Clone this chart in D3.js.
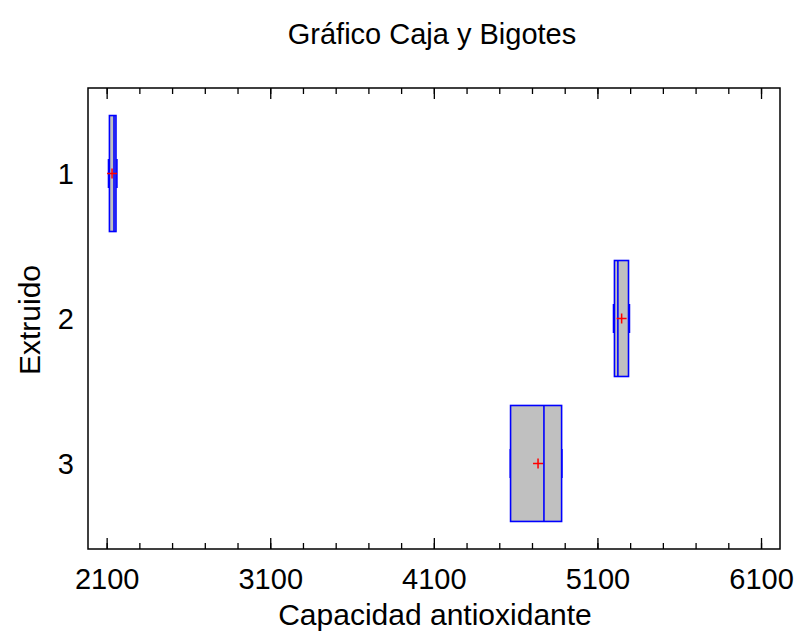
<!DOCTYPE html>
<html>
<head>
<meta charset="utf-8">
<script src="https://cdn.jsdelivr.net/npm/d3@7"></script>
<style>
body { margin: 0; background: #fff; }
text { font-family: "Liberation Sans", Arial, sans-serif; fill: #000; }
</style>
</head>
<body>
<div class="chart"></div>
<script>
// Box and whisker summary per group
var categories = ["1", "2", "3"];
var mins    = [2111, 5198, 4567];
var q1s     = [2117, 5204, 4569];
var medians = [2145, 5225, 4773];
var q3s     = [2157, 5290, 4881];
var maxs    = [2163, 5296, 4883];
var means   = [2133, 5248, 4737];

var majorTicks = [2100, 3100, 4100, 5100, 6100];
var minorTicks = d3.range(2100, 6101, 200);

var svgWidth = 800;
var svgHeight = 637;
var margin = { top: 88, right: 20, bottom: 88, left: 88 };
var width = 780 - margin.left;
var height = 549 - margin.top;

var svg = d3.select(".chart")
    .append("svg")
    .attr("width", svgWidth)
    .attr("height", svgHeight);

var chart = svg.append("g")
    .attr("transform", "translate(" + margin.left + "," + margin.top + ")");

var xScale = d3.scaleLinear().domain([1986, 6216]).range([0, width]);
var yScale = d3.scaleLinear().domain([0.41, 3.59]).range([0, height]);

var data = categories.map(function(c, i) {
    return { cat: +c, min: mins[i], q1: q1s[i], med: medians[i], q3: q3s[i], max: maxs[i], mean: means[i] };
});

// minor + major ticks, bottom and top, pointing inward
function addTicks(values, len) {
    chart.append("g")
        .attr("transform", "translate(0," + height + ")")
        .call(d3.axisBottom(xScale).tickValues(values).tickSize(-len).tickFormat(""))
        .call(function(g) { g.select(".domain").remove(); })
        .selectAll("line").attr("stroke", "#000").attr("stroke-width", 1.3);
    chart.append("g")
        .call(d3.axisTop(xScale).tickValues(values).tickSize(-len).tickFormat(""))
        .call(function(g) { g.select(".domain").remove(); })
        .selectAll("line").attr("stroke", "#000").attr("stroke-width", 1.3);
}
addTicks(minorTicks, 6);
addTicks(majorTicks, 11);

var xLabels = chart.append("g")
    .attr("transform", "translate(0," + height + ")")
    .call(d3.axisBottom(xScale).tickValues(majorTicks).tickSize(0).tickFormat(d3.format("d")));
xLabels.select(".domain").remove();
xLabels.selectAll("text")
    .attr("y", 40).attr("dy", null)
    .style("font-size", "29px")
    .style("font-family", "Liberation Sans, Arial, sans-serif");

var yLabels = chart.append("g")
    .call(d3.axisLeft(yScale).tickValues([1, 2, 3]).tickSize(0).tickFormat(d3.format("d")));
yLabels.select(".domain").remove();
yLabels.selectAll("text")
    .attr("x", -14).attr("dy", "0.36em")
    .style("font-size", "29px")
    .style("font-family", "Liberation Sans, Arial, sans-serif");

var boxHalf = 0.4;
var capHalf = 0.1;
var blue = "#0000ff";

var groups = chart.selectAll(".box")
    .data(data)
    .enter()
    .append("g")
    .attr("class", "box");

// whiskers
groups.append("line")
    .attr("x1", function(d) { return xScale(d.min); })
    .attr("x2", function(d) { return xScale(d.max); })
    .attr("y1", function(d) { return yScale(d.cat); })
    .attr("y2", function(d) { return yScale(d.cat); })
    .attr("stroke", blue).attr("stroke-width", 1.5);
["min", "max"].forEach(function(k) {
    groups.append("line")
        .attr("x1", function(d) { return xScale(d[k]); })
        .attr("x2", function(d) { return xScale(d[k]); })
        .attr("y1", function(d) { return yScale(d.cat - capHalf); })
        .attr("y2", function(d) { return yScale(d.cat + capHalf); })
        .attr("stroke", blue).attr("stroke-width", 1.5);
});

// boxes
groups.append("rect")
    .attr("x", function(d) { return xScale(d.q1); })
    .attr("y", function(d) { return yScale(d.cat - boxHalf); })
    .attr("width", function(d) { return xScale(d.q3) - xScale(d.q1); })
    .attr("height", function(d) { return yScale(d.cat + boxHalf) - yScale(d.cat - boxHalf); })
    .attr("fill", "#c0c0c0")
    .attr("stroke", blue).attr("stroke-width", 1.6);

// median
groups.append("line")
    .attr("x1", function(d) { return xScale(d.med); })
    .attr("x2", function(d) { return xScale(d.med); })
    .attr("y1", function(d) { return yScale(d.cat - boxHalf); })
    .attr("y2", function(d) { return yScale(d.cat + boxHalf); })
    .attr("stroke", blue).attr("stroke-width", 1.6);

// mean cross
groups.append("path")
    .attr("d", function(d) {
        var x = xScale(d.mean), y = yScale(d.cat);
        return "M" + (x - 5) + "," + y + "H" + (x + 5) + "M" + x + "," + (y - 5) + "V" + (y + 5);
    })
    .attr("stroke", "#ff0000").attr("stroke-width", 1.5).attr("fill", "none");

// frame
chart.append("rect")
    .attr("width", width).attr("height", height)
    .attr("fill", "none").attr("stroke", "#000").attr("stroke-width", 1.5);

// titles
svg.append("text")
    .attr("x", 432).attr("y", 44)
    .attr("text-anchor", "middle")
    .style("font-size", "29px")
    .text("Gráfico Caja y Bigotes");

svg.append("text")
    .attr("x", 435).attr("y", 625)
    .attr("text-anchor", "middle")
    .style("font-size", "30px")
    .text("Capacidad antioxidante");

svg.append("text")
    .attr("transform", "translate(40," + 320 + ") rotate(-90)")
    .attr("text-anchor", "middle")
    .style("font-size", "30px")
    .text("Extruido");
</script>
</body>
</html>
